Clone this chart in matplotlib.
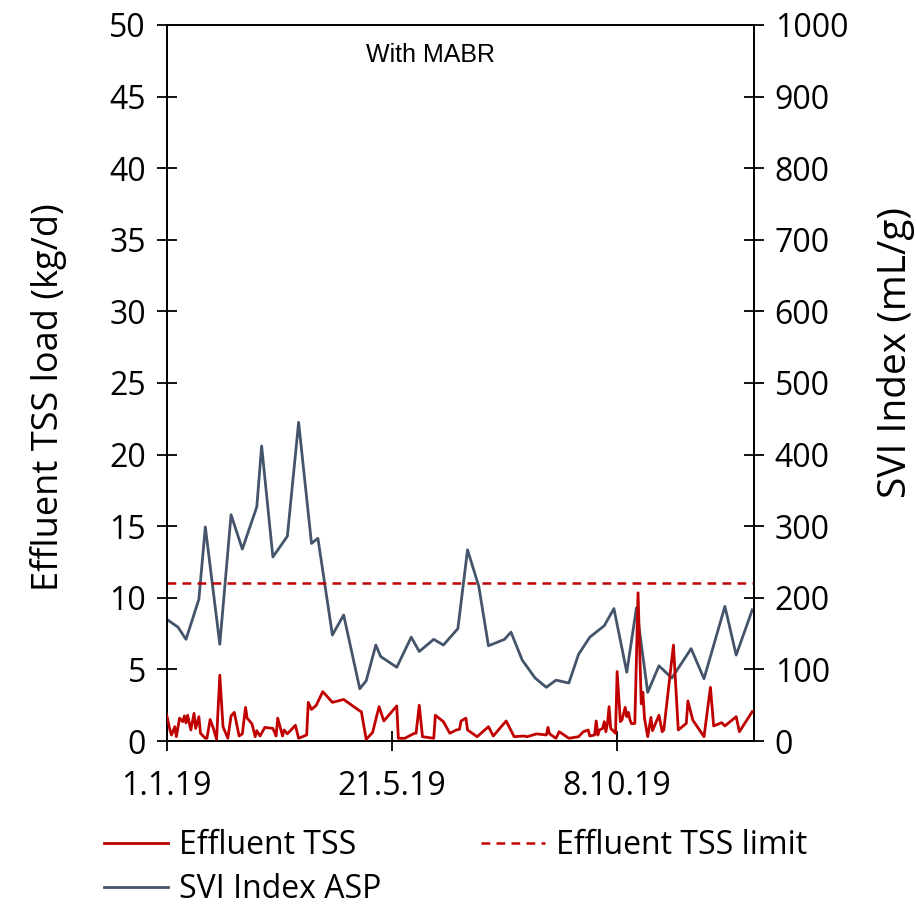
import numpy as np
import pandas as pd
import matplotlib
matplotlib.use("Agg")
import matplotlib.pyplot as plt

# days after 1.1.19 and values
tss_day = [0, 2, 3, 5, 6, 8, 10, 11, 12, 13, 15, 17, 18, 20, 21, 24, 25, 27, 29, 31,
           33, 35, 38, 40, 42, 45, 47, 49, 50, 53, 55, 56, 58, 61, 66, 68, 69, 72, 73, 75,
           80, 82, 87, 88, 90, 93, 97, 103, 110, 120, 121, 124, 128, 132, 135, 143, 144, 148, 154, 155,
           157, 159, 166, 167, 172, 176, 180, 182, 183, 186, 187, 193, 200, 203, 211, 216, 222, 224, 230, 236,
           237, 238, 242, 244, 250, 256, 259, 262, 263, 266, 267, 268, 269, 271, 272, 273, 274, 275, 276, 278,
           279, 280, 282, 283, 285, 286, 287, 288, 289, 291, 293, 295, 296, 297, 299, 301, 302, 306, 308, 309,
           315, 318, 323, 324, 327, 334, 338, 340, 345, 347, 354, 356, 364]
tss_val = [1.8, 0.77, 0.42, 1.0, 0.3, 1.6, 1.35, 1.75, 1.26, 1.8, 0.77, 1.93, 0.88, 1.7, 0.54, 0.19, 0.19, 1.5, 0.88, 0.12,
           4.6, 1.0, 0.19, 1.75, 2.0, 0.35, 0.5, 2.35, 1.6, 1.2, 0.3, 0.72, 0.35, 0.95, 0.88, 0.35, 1.6, 0.35, 0.77, 0.5,
           1.1, 0.19, 0.42, 2.7, 2.2, 2.5, 3.45, 2.7, 2.9, 2.1, 2.05, 0.12, 0.6, 2.4, 1.4, 2.45, 0.19, 0.19, 0.54, 0.54,
           2.5, 0.3, 0.19, 1.8, 1.35, 0.54, 0.77, 0.82, 1.4, 1.6, 0.77, 0.3, 1.0, 0.35, 1.4, 0.3, 0.35, 0.3, 0.5, 0.42,
           0.95, 0.5, 0.19, 0.65, 0.19, 0.3, 0.65, 0.77, 0.35, 0.42, 1.4, 0.42, 0.77, 0.88, 1.35, 0.65, 1.2, 2.4, 0.88, 0.65,
           0.54, 4.85, 1.35, 1.47, 2.35, 1.7, 2.0, 1.47, 1.2, 1.23, 10.35, 2.6, 3.4, 1.6, 0.3, 1.65, 0.72, 1.8, 0.65, 0.77,
           6.7, 0.77, 1.23, 2.8, 1.47, 0.3, 3.75, 1.05, 1.28, 1.05, 1.7, 0.65, 2.05]

svi_day = [0, 7, 12, 20, 24, 33, 40, 47, 56, 59, 66, 75, 82, 90, 94, 103, 110, 120, 124, 130,
           133, 143, 152, 157, 166, 172, 181, 187, 194, 200, 210, 214, 221, 229, 236, 242, 250, 256, 263, 272,
           278, 286, 292, 299, 306, 314, 326, 334, 347, 354, 364]
svi_val = [170, 159, 142, 198, 299, 135, 316, 268, 327, 412, 257, 286, 445, 276, 283, 148, 176, 73, 84, 134,
           118, 103, 145, 125, 142, 134, 157, 267, 216, 133, 142, 152, 113, 88, 75, 85, 81, 121, 145, 161,
           185, 96, 186, 68, 105, 88, 129, 87, 188, 120, 183]

tss_limit = 11
start = pd.Timestamp("2019-01-01")
tick_dates = ["2019-01-01", "2019-05-21", "2019-10-08"]
tick_labels = ["1.1.19", "21.5.19", "8.10.19"]

tss_x = start + pd.to_timedelta(tss_day, unit="D")
svi_x = start + pd.to_timedelta(svi_day, unit="D")

plt.rcParams['font.family'] = ['Open Sans', 'DejaVu Sans']
red = '#C00000'
grey = '#44546A'

fig = plt.figure(figsize=(9.16, 9.11), dpi=100)
ax = fig.add_axes([0.182, 0.1866, 0.641, 0.786])
ax2 = ax.twinx()

l1, = ax.plot(tss_x, tss_val, color=red, lw=2.0, label='Effluent TSS', zorder=3)
l3 = ax.axhline(tss_limit, color=red, lw=1.8, ls=(0, (3.5, 2.5)), label='Effluent TSS limit')
l2, = ax2.plot(svi_x, svi_val, color=grey, lw=2.0, label='SVI Index ASP')

ax.set_zorder(ax2.get_zorder() + 1)
ax.patch.set_visible(False)

ax.set_xlim(start, pd.Timestamp("2020-01-01"))
ax.set_ylim(0, 50)
ax2.set_ylim(0, 1000)
ax.set_yticks(np.arange(0, 51, 5))
ax2.set_yticks(np.arange(0, 1001, 100))
ax.set_xticks(pd.to_datetime(tick_dates))
ax.set_xticklabels(tick_labels)

for a in (ax, ax2):
    a.tick_params(direction='inout', length=14, width=1.3, labelsize=23, colors='black')
    for s in a.spines.values():
        s.set_linewidth(1.3)
ax.tick_params(axis='x', pad=14)
ax.tick_params(axis='y', pad=8)
ax2.tick_params(axis='y', pad=8)

ax.set_ylabel('Effluent TSS load (kg/d)', fontsize=26, labelpad=30)
ax2.set_ylabel('SVI Index (mL/g)', fontsize=28, labelpad=21)
ax.yaxis.label.set_y(0.48)
ax2.yaxis.label.set_y(0.543)

ax.text(0.45, 0.958, 'With MABR', transform=ax.transAxes, ha='center', va='center',
        fontsize=18, family='Liberation Sans')

fig.legend(handles=[l1, l2, l3], ncol=2, loc='upper left', bbox_to_anchor=(0.1, 0.104),
           frameon=False, fontsize=23, handlelength=2.0, handletextpad=0.35,
           columnspacing=3.1, labelspacing=0.35, borderaxespad=0)

fig.savefig('out.png', dpi=100)
